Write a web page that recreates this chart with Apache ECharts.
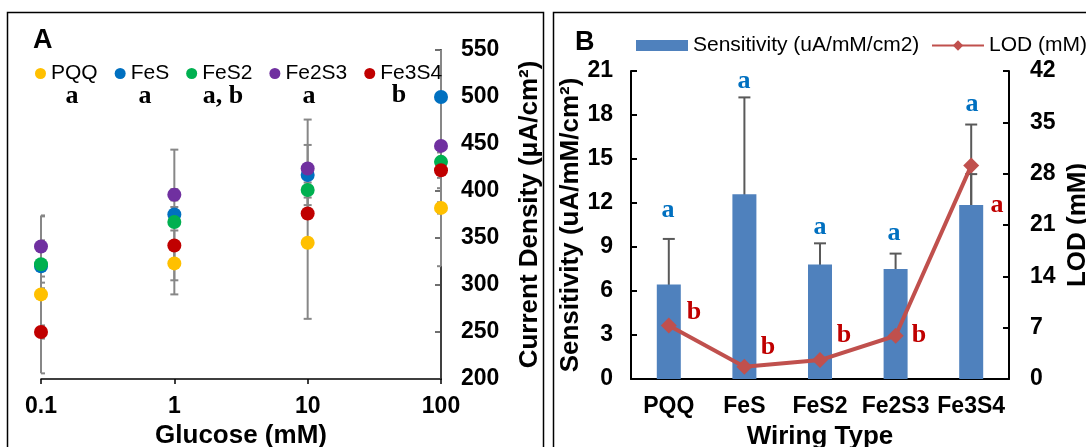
<!DOCTYPE html>
<html>
<head>
<meta charset="utf-8">
<script src="https://cdn.jsdelivr.net/npm/echarts@6/dist/echarts.min.js"></script>
<style>
  html, body { margin: 0; padding: 0; background: #fff; }
  #chart { width: 1086px; height: 447px; }
</style>
</head>
<body>
<div id="chart"></div>
<script>
// panel A: current density vs glucose
const glucose = [0.1, 1, 10, 100]
const pqq = [290, 323, 345, 382]
const fes = [320, 375, 417, 500]
const fes2 = [322, 367, 401, 431]
const fe2s3 = [341, 396, 424, 448]
const fe3s4 = [250, 342, 376, 422]
const pqqErr = [84, 18, 81, 6]
const fesErr = [17.5, 8, 32, 97]
const fes2Err = [25.5, 77, 8, 10]
const fe2s3Err = [32, 6, 52, 128]
const fe3s4Err = [7, 16, 5, 8]
const densityTicks = [200, 550, 50]

// panel B: sensitivity and LOD by wiring type
const wiring = ['PQQ', 'FeS', 'FeS2', 'Fe2S3', 'Fe3S4']
const sensitivity = [6.45, 12.6, 7.8, 7.5, 11.87]
const sensErr = [3.1, 6.6, 1.45, 1.05, 2.1]
const lod = [7.3, 1.67, 2.58, 5.9, 29.1]
const lodErr = [2.9, 0.7, 0.5, 0.9, 5.6]

const sans = 'Liberation Sans'
const serif = 'Liberation Serif'

let myChart = echarts.init(document.getElementById('chart'), null, { renderer: 'canvas' })

function errBars(color, capHalf) {
	return function (params, api) {
		let x = api.value(0), v = api.value(1), e = api.value(2)
		let cs = params.coordSys
		let top = api.coord([x, v + e])
		let bot = api.coord([x, v - e])
		let px = top[0]
		let y1 = Math.max(top[1], cs.y)
		let y2 = Math.min(bot[1], cs.y + cs.height)
		let style = { stroke: color, lineWidth: 2 }
		let cx1 = Math.max(px - capHalf, cs.x)
		let cx2 = Math.min(px + capHalf, cs.x + cs.width)
		let children = [{ type: 'line', shape: { x1: px, y1: y1, x2: px, y2: y2 }, style: style }]
		if (top[1] >= cs.y) children.push({ type: 'line', shape: { x1: cx1, y1: top[1], x2: cx2, y2: top[1] }, style: style })
		if (bot[1] <= cs.y + cs.height) children.push({ type: 'line', shape: { x1: cx1, y1: bot[1], x2: cx2, y2: bot[1] }, style: style })
		return { type: 'group', children: children }
	}
}

const seriesA = [
	{ name: 'PQQ', vals: pqq, err: pqqErr, color: '#FFC000' },
	{ name: 'FeS', vals: fes, err: fesErr, color: '#0070C0' },
	{ name: 'FeS2', vals: fes2, err: fes2Err, color: '#00B050' },
	{ name: 'Fe2S3', vals: fe2s3, err: fe2s3Err, color: '#7030A0' },
	{ name: 'Fe3S4', vals: fe3s4, err: fe3s4Err, color: '#C00000' }
]

let series = []
for (let s of seriesA) {
	series.push({
		type: 'custom',
		xAxisIndex: 0, yAxisIndex: 0,
		renderItem: errBars('#878787', 4),
		data: glucose.map((g, i) => [g, s.vals[i], s.err[i]]),
		encode: { x: 0, y: 1 },
		silent: true
	})
}
for (let s of seriesA) {
	series.push({
		name: s.name,
		type: 'scatter',
		xAxisIndex: 0, yAxisIndex: 0,
		symbolSize: 14,
		itemStyle: { color: s.color, opacity: 1 },
		data: glucose.map((g, i) => [g, s.vals[i]])
	})
}

series.push({
	name: 'Sensitivity (uA/mM/cm2)',
	type: 'bar',
	xAxisIndex: 1, yAxisIndex: 1,
	barWidth: 24,
	itemStyle: { color: '#4F81BD' },
	data: sensitivity
})
series.push({
	type: 'custom',
	xAxisIndex: 1, yAxisIndex: 1,
	renderItem: errBars('#595959', 6),
	data: sensitivity.map((v, i) => [i, v, sensErr[i]]),
	encode: { x: 0, y: 1 },
	silent: true
})
series.push({
	type: 'custom',
	xAxisIndex: 1, yAxisIndex: 2,
	renderItem: errBars('#595959', 6),
	data: lod.map((v, i) => [i, v, lodErr[i]]),
	encode: { x: 0, y: 1 },
	silent: true
})
series.push({
	name: 'LOD (mM)',
	type: 'line',
	xAxisIndex: 1, yAxisIndex: 2,
	symbol: 'diamond',
	symbolSize: 16,
	color: '#C0504D',
	lineStyle: { width: 4, color: '#C0504D' },
	itemStyle: { color: '#C0504D' },
	data: lod
})

const tickFont = { fontFamily: sans, fontWeight: 'bold', fontSize: 23, color: '#000' }
const nameFont = { fontFamily: sans, fontWeight: 'bold', fontSize: 26, color: '#000' }
const legendFont = { fontFamily: sans, fontSize: 21, color: '#000' }

function letter(txt, x, y, color) {
	return {
		type: 'text', x: x, y: y,
		style: { text: txt, fill: color, font: 'bold 26px "' + serif + '"', textAlign: 'center', textVerticalAlign: 'middle' }
	}
}

option = {
	animation: false,
	backgroundColor: '#fff',
	grid: [
		{ left: 41, top: 50, width: 400, height: 329, outerBoundsMode: 'none' },
		{ left: 631, top: 71, width: 378, height: 308, outerBoundsMode: 'none' }
	],
	legend: [
		{
			data: seriesA.map(s => s.name),
			left: 30, top: 58,
			icon: 'circle',
			itemWidth: 11, itemHeight: 11, itemGap: 17,
			textStyle: legendFont
		},
		{
			data: [{ name: 'Sensitivity (uA/mM/cm2)', icon: 'rect' }],
			left: 631, top: 30,
			itemWidth: 52, itemHeight: 11,
			textStyle: legendFont
		},
		{
			data: [{ name: 'LOD (mM)' }],
			left: 926, top: 30,
			itemWidth: 52, itemHeight: 13,
			textStyle: legendFont
		}
	],
	xAxis: [
		{
			type: 'log', logBase: 10, min: 0.1, max: 100, gridIndex: 0,
			name: 'Glucose (mM)', nameLocation: 'middle', nameGap: 44, nameTextStyle: nameFont,
			axisLine: { lineStyle: { color: '#000', width: 1.5 } },
			axisTick: { length: 5, lineStyle: { color: '#000', width: 1.5 } },
			minorTick: { show: false },
			splitLine: { show: false },
			axisLabel: Object.assign({ margin: 16, formatter: v => String(v) }, tickFont)
		},
		{
			type: 'category', data: wiring, gridIndex: 1,
			name: 'Wiring Type', nameLocation: 'middle', nameGap: 45, nameTextStyle: nameFont,
			axisLine: { lineStyle: { color: '#000', width: 2 } },
			axisTick: { show: false },
			axisLabel: Object.assign({ margin: 16, interval: 0 }, tickFont)
		}
	],
	yAxis: [
		{
			type: 'value', gridIndex: 0, position: 'right',
			min: densityTicks[0], max: densityTicks[1], interval: densityTicks[2],
			name: 'Current Density (μA/cm²)', nameLocation: 'middle', nameGap: 76, nameTextStyle: nameFont,
			axisLine: { show: true, lineStyle: { color: '#404040', width: 2 } },
			axisTick: { show: true, inside: true, length: 6, lineStyle: { color: '#404040', width: 1.5 } },
			splitLine: { show: false },
			axisLabel: Object.assign({ margin: 20 }, tickFont)
		},
		{
			type: 'value', gridIndex: 1, position: 'left',
			min: 0, max: 21, interval: 3,
			name: 'Sensitivity (uA/mM/cm²)', nameLocation: 'middle', nameGap: 46, nameTextStyle: nameFont,
			axisLine: { show: true, lineStyle: { color: '#000', width: 2 } },
			axisTick: { show: true, inside: true, length: 6, lineStyle: { color: '#000', width: 2 } },
			splitLine: { show: false },
			axisLabel: Object.assign({ margin: 18 }, tickFont)
		},
		{
			type: 'value', gridIndex: 1, position: 'right',
			min: 0, max: 42, interval: 7,
			name: 'LOD (mM)', nameLocation: 'middle', nameGap: 56, nameTextStyle: nameFont,
			axisLine: { show: true, lineStyle: { color: '#000', width: 2 } },
			axisTick: { show: true, inside: true, length: 6, lineStyle: { color: '#000', width: 2 } },
			splitLine: { show: false },
			axisLabel: Object.assign({ margin: 21 }, tickFont)
		}
	],
	graphic: [
		{ type: 'rect', shape: { x: 7.5, y: 12.5, width: 536, height: 460 }, style: { fill: 'none', stroke: '#000', lineWidth: 1.5 }, silent: true },
		{ type: 'rect', shape: { x: 553.5, y: 12.5, width: 560, height: 460 }, style: { fill: 'none', stroke: '#000', lineWidth: 1.5 }, silent: true },
		{ type: 'text', x: 33, y: 27, style: { text: 'A', font: 'bold 27px "' + sans + '"', fill: '#000' } },
		{ type: 'text', x: 575, y: 29, style: { text: 'B', font: 'bold 27px "' + sans + '"', fill: '#000' } },
		letter('a', 72, 96, '#000'),
		letter('a', 145, 96, '#000'),
		letter('a, b', 223, 96, '#000'),
		letter('a', 309, 96, '#000'),
		letter('b', 399, 95, '#000'),
		letter('a', 668, 210, '#0070C0'),
		letter('a', 744, 81, '#0070C0'),
		letter('a', 820, 227, '#0070C0'),
		letter('a', 894, 233, '#0070C0'),
		letter('a', 972, 104, '#0070C0'),
		letter('b', 694, 312, '#C00000'),
		letter('b', 768, 347, '#C00000'),
		letter('b', 844, 335, '#C00000'),
		letter('b', 919, 335, '#C00000'),
		letter('a', 997, 205, '#C00000')
	],
	series: series
}
myChart.setOption(option)
</script>
</body>
</html>
